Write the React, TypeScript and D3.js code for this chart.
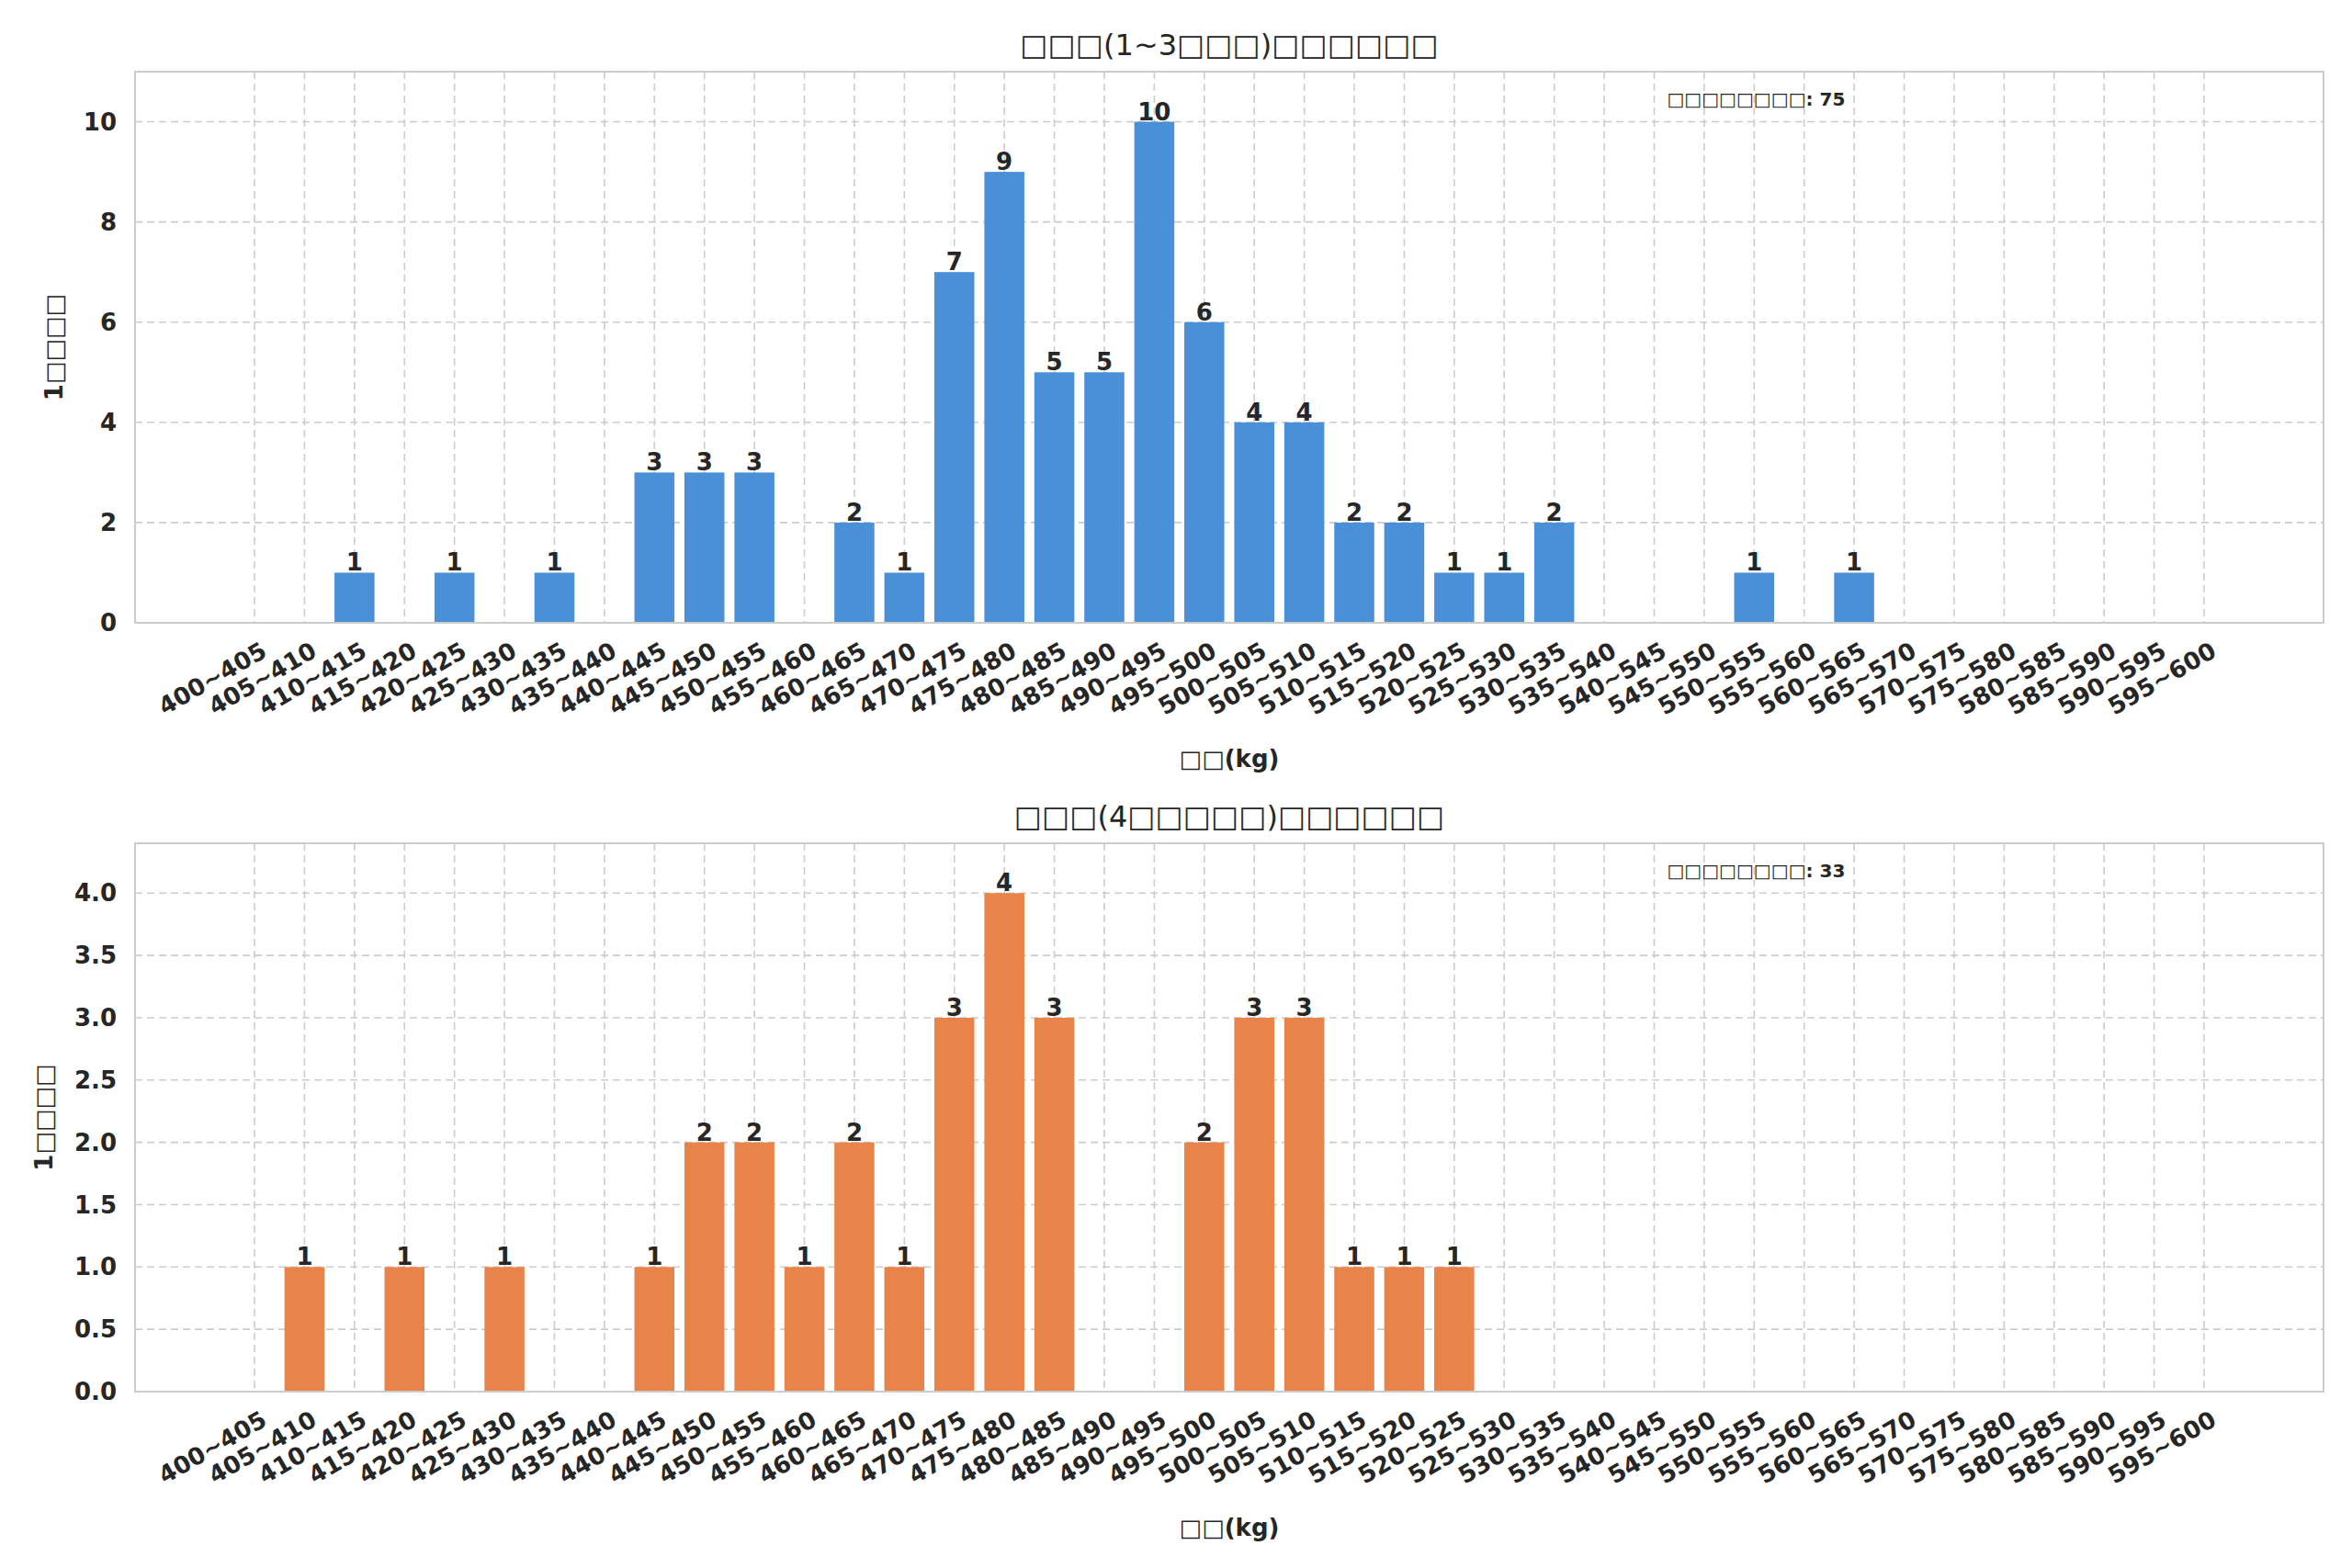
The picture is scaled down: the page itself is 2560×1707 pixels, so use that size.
import { useEffect, useRef } from 'react'
import * as d3 from 'd3'

const categories = d3.range(40).map(i => `${400 + i * 5}~${405 + i * 5}`)
const youngCounts = [0, 0, 1, 0, 1, 0, 1, 0, 3, 3, 3, 0, 2, 1, 7, 9, 5, 5, 10, 6, 4, 4, 2, 2, 1, 1, 2, 0, 0, 0, 1, 0, 1, 0, 0, 0, 0, 0, 0, 0]
const oldCounts = [0, 1, 0, 1, 0, 1, 0, 0, 1, 2, 2, 1, 2, 1, 3, 4, 3, 0, 0, 2, 3, 3, 1, 1, 1, 0, 0, 0, 0, 0, 0, 0, 0, 0, 0, 0, 0, 0, 0, 0]
const titles = ['□□□(1~3□□□)□□□□□□', '□□□(4□□□□□)□□□□□□']
const notes = ['□□□□□□□□: 75', '□□□□□□□□: 33']
const colors = ['#4a90d9', '#e8834a']
const yTicks = [[0, 2, 4, 6, 8, 10], [0, 0.5, 1, 1.5, 2, 2.5, 3, 3.5, 4]]

const W = 2560, H = 1707
const FONT = 'DejaVu Sans, sans-serif'

export default function App() {
  const ref = useRef<SVGSVGElement>(null)
  useEffect(() => {
    const svg = d3.select(ref.current!)
    svg.selectAll('*').remove()
    svg.append('rect').attr('width', W).attr('height', H).attr('fill', '#fff')
    const panels = [
      { data: youngCounts, top: 78, bottom: 678, ymax: 11, fmt: (d: number) => `${d}` },
      { data: oldCounts, top: 918, bottom: 1515, ymax: 4.4, fmt: (d: number) => d.toFixed(1) },
    ]
    const left = 147, right = 2529
    panels.forEach((p, k) => {
      const x = d3.scaleLinear().domain([-2.39, 41.39]).range([left, right])
      const y = d3.scaleLinear().domain([0, p.ymax]).range([p.bottom, p.top])
      const g = svg.append('g').attr('font-family', FONT)
      // grid
      categories.forEach((_, i) => {
        g.append('line').attr('x1', x(i)).attr('x2', x(i)).attr('y1', p.top).attr('y2', p.bottom)
          .attr('stroke', '#cccccc').attr('stroke-width', 1.6).attr('stroke-dasharray', '8,5')
      })
      yTicks[k].forEach(t => {
        g.append('line').attr('x1', left).attr('x2', right).attr('y1', y(t)).attr('y2', y(t))
          .attr('stroke', '#cccccc').attr('stroke-width', 1.6).attr('stroke-dasharray', '8,5')
        g.append('text').attr('x', left - 20).attr('y', y(t)).attr('dy', '0.35em').attr('text-anchor', 'end')
          .attr('font-size', 26).attr('font-weight', 'bold').attr('fill', '#262626').text(p.fmt(t))
      })
      // bars
      p.data.forEach((v, i) => {
        if (!v) return
        g.append('rect').attr('x', x(i - 0.4)).attr('width', x(0.8) - x(0)).attr('y', y(v)).attr('height', y(0) - y(v))
          .attr('fill', colors[k])
        g.append('text').attr('x', x(i)).attr('y', y(v) - 2).attr('text-anchor', 'middle')
          .attr('font-size', 26).attr('font-weight', 'bold').attr('fill', '#262626').text(v)
      })
      // frame
      g.append('rect').attr('x', left).attr('y', p.top).attr('width', right - left).attr('height', p.bottom - p.top)
        .attr('fill', 'none').attr('stroke', '#cccccc').attr('stroke-width', 2)
      // x tick labels
      categories.forEach((c, i) => {
        g.append('text').attr('transform', `translate(${x(i) + 6},${p.bottom + 20}) rotate(-30)`)
          .attr('text-anchor', 'end').attr('dy', '0.7em').attr('font-size', 26).attr('font-weight', 'bold')
          .attr('fill', '#262626').text(c)
      })
      g.append('text').attr('x', (left + right) / 2).attr('y', p.bottom + 157).attr('text-anchor', 'middle')
        .attr('font-size', 26).attr('font-weight', 'bold').attr('fill', '#262626').text('□□(kg)')
      g.append('text').attr('transform', `translate(${k ? 57 : 68},${(p.top + p.bottom) / 2}) rotate(-90)`)
        .attr('text-anchor', 'middle').attr('font-size', 26).attr('font-weight', 'bold').attr('fill', '#262626').text('1□□□□')
      g.append('text').attr('x', (left + right) / 2).attr('y', p.top - 18).attr('text-anchor', 'middle')
        .attr('font-size', 32).attr('fill', '#262626').text(titles[k])
      g.append('text').attr('x', left + 0.7 * (right - left)).attr('y', p.top + 0.05 * (p.bottom - p.top) + 7)
        .attr('font-size', 20).attr('font-weight', 'bold').attr('fill', '#262626').text(notes[k])
    })
  }, [])
  return <svg ref={ref} width={W} height={H} style={{ position: 'absolute', left: 0, top: 0 }} />
}
